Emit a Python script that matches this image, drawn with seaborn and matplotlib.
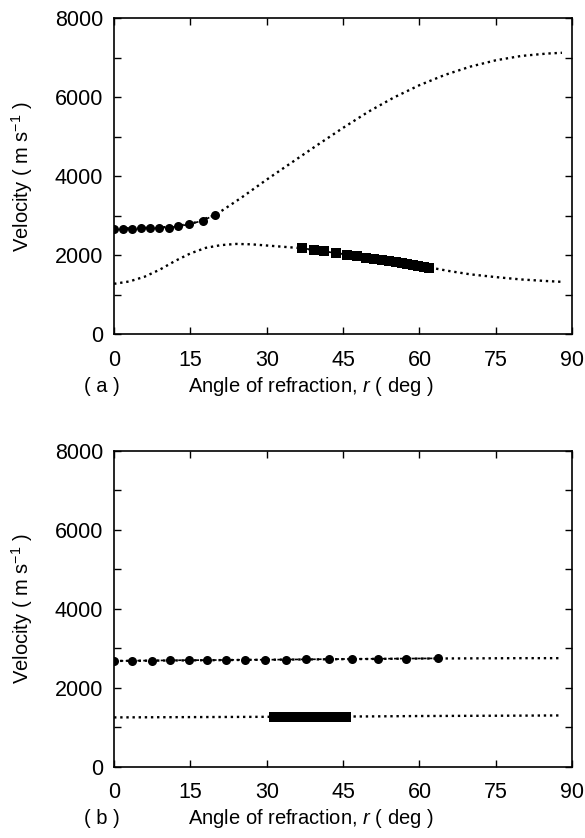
import matplotlib
matplotlib.use('Agg')
import matplotlib.pyplot as plt
import seaborn as sns
from matplotlib.ticker import MultipleLocator

# panel (a) - dotted theory curves
a_fast_ang = [0, 5, 10, 15, 20, 25, 30, 35, 40, 45, 50, 55, 60, 65, 70, 75, 80, 85, 88]
a_fast_vel = [2680, 2690, 2715, 2790, 3030, 3460, 3920, 4360, 4800, 5230, 5640, 6000, 6310,
              6570, 6780, 6940, 7050, 7110, 7130]
a_slow_ang = [0, 3, 6, 9, 12, 15, 18, 21, 24, 27, 30, 33, 36, 40, 45, 50, 55, 60, 63, 66,
              70, 75, 80, 85, 88]
a_slow_vel = [1280, 1340, 1460, 1640, 1860, 2050, 2190, 2260, 2290, 2280, 2250, 2220, 2190,
              2120, 2030, 1930, 1830, 1730, 1670, 1600, 1520, 1450, 1390, 1350, 1330]
# panel (a) - measured points
a_circ_ang = [0, 1.8, 3.6, 5.3, 7.1, 8.9, 10.8, 12.6, 14.8, 17.4, 19.9]
a_circ_vel = [2680, 2680, 2680, 2685, 2690, 2695, 2705, 2735, 2790, 2880, 3030]
a_sq_ang = [37.0, 39.2, 41.3, 43.6, 45.7, 47.7, 49.5, 51.1, 52.6, 54.0, 55.3, 56.5, 57.6,
            58.7, 59.8, 60.8, 61.8]
a_sq_vel = [2180, 2140, 2100, 2060, 2020, 1980, 1945, 1915, 1885, 1855, 1830, 1805, 1780,
            1760, 1735, 1715, 1690]

# panel (b)
b_fast_ang = [0, 10, 20, 30, 40, 50, 60, 70, 80, 88]
b_fast_vel = [2680, 2690, 2700, 2710, 2720, 2730, 2740, 2745, 2750, 2750]
b_slow_ang = [0, 10, 20, 30, 40, 50, 60, 70, 80, 88]
b_slow_vel = [1250, 1255, 1260, 1265, 1270, 1275, 1285, 1290, 1295, 1300]
b_circ_ang = [0, 3.6, 7.4, 11.0, 14.7, 18.3, 22.0, 25.7, 29.6, 33.7, 37.7, 42.3, 46.7,
              51.9, 57.4, 63.6]
b_circ_vel = [2680, 2685, 2690, 2695, 2700, 2700, 2705, 2710, 2710, 2715, 2720, 2725, 2730,
              2735, 2740, 2745]
b_sq_ang = [31.5, 32.2, 32.9, 33.6, 34.3, 35.0, 35.7, 36.4, 37.1, 37.8, 38.5, 39.2, 39.9,
            40.6, 41.3, 42.0, 42.7, 43.4, 44.1, 44.8, 45.5]
b_sq_vel = [1255, 1255, 1258, 1258, 1260, 1260, 1262, 1262, 1262, 1263, 1263, 1264, 1264,
            1265, 1265, 1266, 1266, 1267, 1267, 1268, 1268]

sns.set_style("ticks")
plt.rcParams['font.family'] = ['Liberation Sans', 'DejaVu Sans']
plt.rcParams['mathtext.fontset'] = 'custom'
plt.rcParams['mathtext.rm'] = 'Liberation Sans'
plt.rcParams['mathtext.it'] = 'Liberation Sans:italic'
for k in ['text.color', 'axes.labelcolor', 'xtick.color', 'ytick.color', 'axes.edgecolor']:
    plt.rcParams[k] = 'black'

fig = plt.figure(figsize=(5.85, 8.38), dpi=100)
ax_a = fig.add_axes([0.195, 0.601, 0.783, 0.377])
ax_b = fig.add_axes([0.195, 0.085, 0.783, 0.377])

dot = (0, (1, 1.6))
panels = [
    (ax_a, '( a )', a_fast_ang, a_fast_vel, a_slow_ang, a_slow_vel,
     a_circ_ang, a_circ_vel, a_sq_ang, a_sq_vel),
    (ax_b, '( b )', b_fast_ang, b_fast_vel, b_slow_ang, b_slow_vel,
     b_circ_ang, b_circ_vel, b_sq_ang, b_sq_vel),
]
for ax, tag, fx, fy, sx, sy, cx, cy, qx, qy in panels:
    sns.lineplot(x=fx, y=fy, ax=ax, color='black', lw=1.7, linestyle=dot)
    sns.lineplot(x=sx, y=sy, ax=ax, color='black', lw=1.7, linestyle=dot)
    sns.lineplot(x=cx, y=cy, ax=ax, color='black', lw=1.2, linestyle=(0, (2, 1.5)),
                 marker='o', markersize=6.5, markeredgewidth=0)
    sns.lineplot(x=qx, y=qy, ax=ax, color='black', lw=1.2,
                 marker='s', markersize=7, markeredgewidth=0)

    ax.set_xlim(0, 90)
    ax.set_ylim(0, 8000)
    ax.xaxis.set_major_locator(MultipleLocator(15))
    ax.yaxis.set_major_locator(MultipleLocator(2000))
    ax.yaxis.set_minor_locator(MultipleLocator(1000))
    ax.tick_params(which='both', direction='in', top=True, right=True,
                   length=5, width=1, labelsize=15.5, color='black', labelcolor='black')
    ax.tick_params(axis='x', pad=11)
    ax.tick_params(axis='y', pad=8)
    for sp in ax.spines.values():
        sp.set_linewidth(1.2)
        sp.set_color('black')
    ax.set_ylabel(r'Velocity ( m s$^{-1}$ )', fontsize=14.5, va='center', color='black')
    ax.yaxis.set_label_coords(-0.2, 0.5)
    ax.set_xlabel(r'Angle of refraction, $\mathit{r}$ ( deg )', fontsize=14.5,
                  va='center', color='black')
    ax.xaxis.set_label_coords(0.43, -0.165)
    ax.text(-0.026, -0.165, tag, transform=ax.transAxes, fontsize=14.5,
            ha='center', va='center', color='black')

fig.savefig('out.png', dpi=100)
